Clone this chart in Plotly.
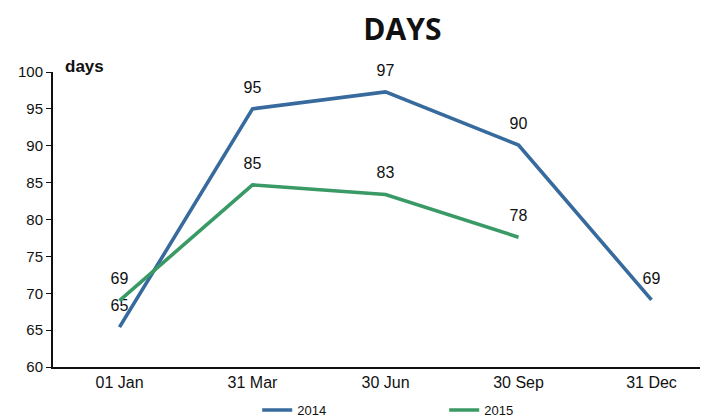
import plotly.graph_objects as go

categories = ["01 Jan", "31 Mar", "30 Jun", "30 Sep", "31 Dec"]
days_2014 = [65.4, 95.0, 97.3, 90.1, 69.1]
days_2015 = [69.0, 84.7, 83.4, 77.6, None]
y_ticks = [60, 65, 70, 75, 80, 85, 90, 95, 100]

blue = "#376a9d"
green = "#3a9a66"

def labels(vals):
    return ["" if v is None else f"{v:.0f}" for v in vals]

def add_series(name, vals, color):
    fig.add_trace(go.Scatter(
        x=categories, y=vals, name=name, mode="lines+markers+text",
        line=dict(color=color, width=3.6),
        marker=dict(size=18, color="rgba(0,0,0,0)", line=dict(width=0)),
        text=labels(vals), textposition="top center",
        textfont=dict(size=16, color="#111", family="Liberation Sans, Arial"),
        cliponaxis=False,
    ))

fig = go.Figure()
add_series("2014", days_2014, blue)
add_series("2015", days_2015, green)

fig.update_layout(
    width=708, height=420,
    margin=dict(l=45, r=0, t=64, b=61, autoexpand=False),
    paper_bgcolor="white", plot_bgcolor="white",
    font=dict(family="Liberation Sans, Arial", size=15, color="#111"),
    title=dict(text="<b>DAYS</b>", x=0.557, xanchor="center", y=0.95, yanchor="middle",
               font=dict(family="Open Sans, DejaVu Sans", size=30, color="#111")),
    xaxis=dict(type="category", range=[-0.5, 4.485], showline=True, linecolor="#111",
               linewidth=2, ticks="", showgrid=False, zeroline=False,
               tickfont=dict(size=16), tickangle=0),
    yaxis=dict(range=[60, 100], tickvals=y_ticks, showline=True, linecolor="#111",
               linewidth=2, ticks="outside", ticklen=5, tickcolor="#111",
               showgrid=False, zeroline=False, tickfont=dict(size=15)),
    legend=dict(orientation="h", x=0.308, xanchor="left", y=-0.146, yanchor="middle",
                font=dict(size=13), bgcolor="rgba(0,0,0,0)", entrywidth=142,
                entrywidthmode="pixels"),
    annotations=[dict(text="<b>days</b>", xref="paper", yref="paper", x=0.015, y=1.017,
                      xanchor="left", yanchor="middle", showarrow=False,
                      font=dict(size=17, color="#111"))],
    showlegend=True,
)

fig.write_html("out.html")
